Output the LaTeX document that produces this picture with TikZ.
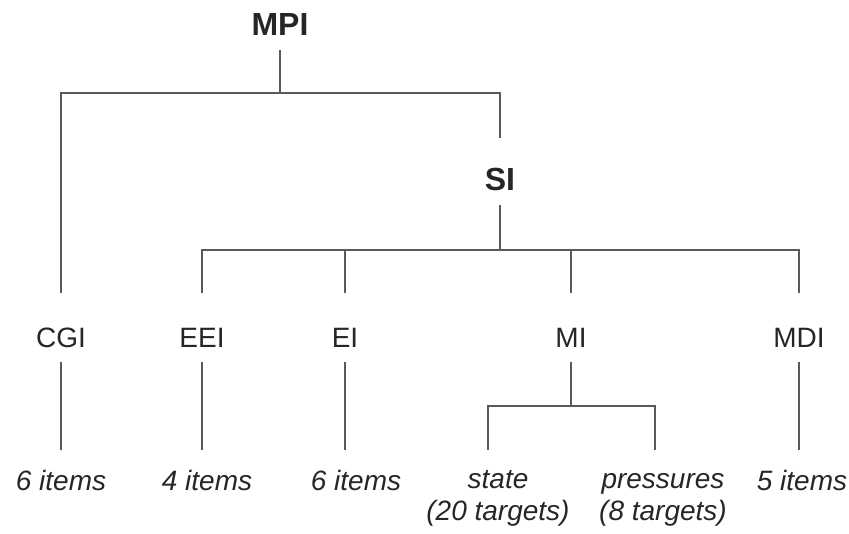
\documentclass[tikz,border=0pt]{standalone}
\usepackage{fontspec}
\setmainfont{Liberation Sans}
\usepackage{tikz}
\usetikzlibrary{calc,positioning}

\begin{document}
\begin{tikzpicture}[x=1pt,y=-1pt]
	\tikzstyle{every node} = [text=black!85, inner xsep=0pt]
	\tikzstyle{head} = [font=\bfseries\fontsize{32}{36}\selectfont, anchor=base, text height=37pt, text depth=0pt, inner ysep=15pt]
	\tikzstyle{lab} = [font=\fontsize{28}{32}\selectfont, anchor=base, text height=39pt, text depth=0pt, inner ysep=15pt]
	\tikzstyle{item} = [font=\itshape\fontsize{28}{32}\selectfont, anchor=north, align=center, inner ysep=20pt]
	\tikzstyle{link} = [draw=black!65, line width=1.2pt]
	\useasboundingbox (0,0) rectangle (849,533);
\node[head] (mpi) at (280, 35) {MPI};
\node[head] (si) at (500, 190) {SI};
\node[lab] (cgi) at (61, 347) {CGI};
\node[lab] (eei) at (202, 347) {EEI};
\node[lab] (ei) at (345, 347) {EI};
\node[lab] (mi) at (571, 347) {MI};
\node[lab] (mdi) at (799, 347) {MDI};
\node[item] (it1) at (61, 450) {6 items};
\node[item] (it2) at (207, 450) {4 items};
\node[item] (it3) at (356, 450) {6 items};
\node[item] (st) at (498, 450) {state\\(20 targets)};
\node[item] (pr) at (663, 450) {\vphantom{t}pressures\\(8 targets)};
\node[item] (it5) at (802, 450) {5 items};
	\coordinate (j0) at (280, 93);
	\coordinate (j1) at (500, 250);
	\coordinate (j2) at (571, 406);
	\coordinate (k1) at (488, 450);
	\coordinate (k2) at (655, 450);
	% upper levels
	\path[link] (mpi) -- (j0);
	\path[link] (j0) -| (cgi);
	\path[link] (j0) -| (si);
	\path[link] (si) -- (j1);
	\path[link] (j1) -| (eei);
	\path[link] (j1) -| (ei);
	\path[link] (j1) -| (mi);
	\path[link] (j1) -| (mdi);
	% down to the items
	\path[link] (cgi) -- (cgi |- it1.north);
	\path[link] (eei) -- (eei |- it2.north);
	\path[link] (ei) -- (ei |- it3.north);
	\path[link] (mdi) -- (mdi |- it5.north);
	\path[link] (mi) -- (j2);
	\path[link] (j2) -| (k1);
	\path[link] (j2) -| (k2);
	\end{tikzpicture}
\end{document}
